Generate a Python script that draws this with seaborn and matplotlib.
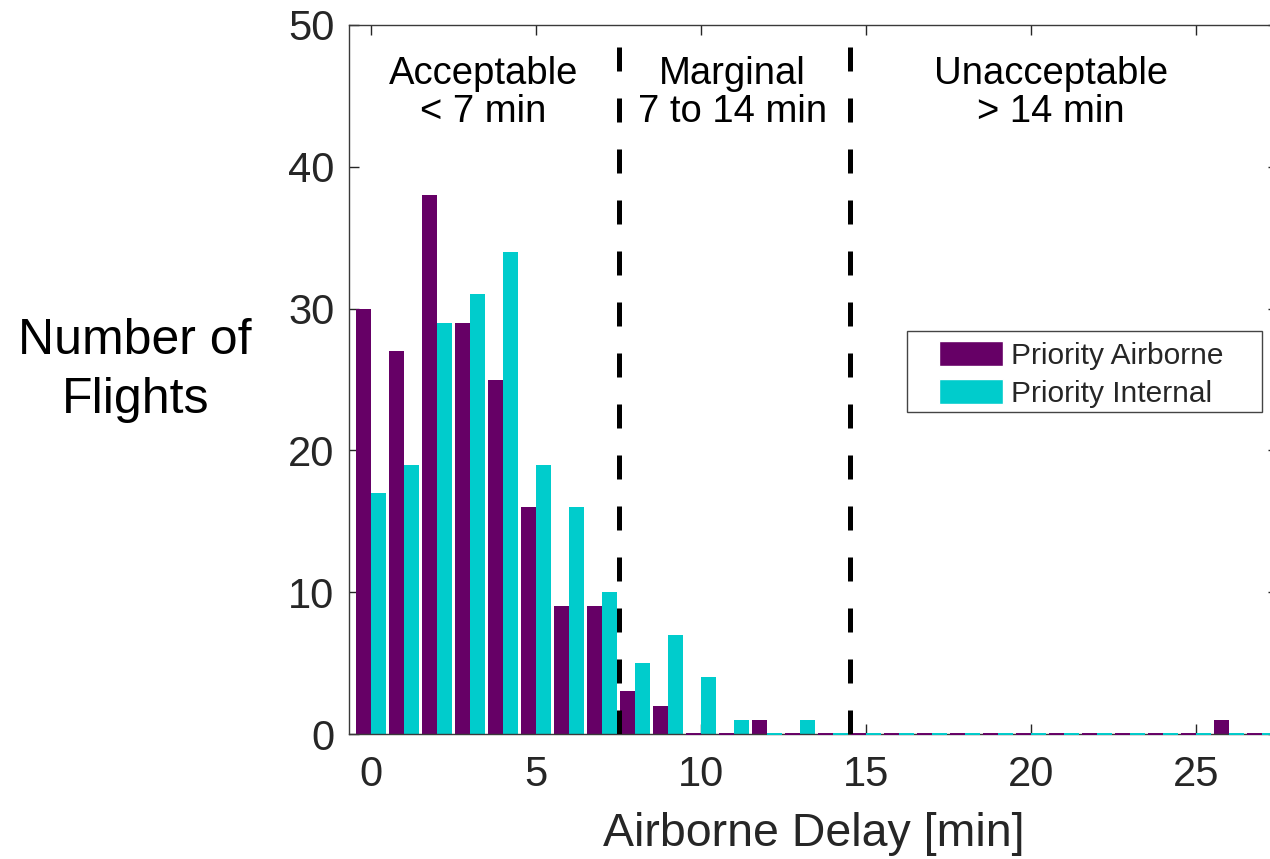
import numpy as np
import pandas as pd
import matplotlib
matplotlib.use('Agg')
import matplotlib.pyplot as plt
from matplotlib.patches import Rectangle
import seaborn as sns

# ---------------- data ----------------
delay_min = list(range(28))
airborne = [30, 27, 38, 29, 25, 16, 9, 9, 3, 2, 0, 0, 1, 0,
            0, 0, 0, 0, 0, 0, 0, 0, 0, 0, 0, 0, 1, 0]
internal = [17, 19, 29, 31, 34, 19, 16, 10, 5, 7, 4, 1, 0, 1,
            0, 0, 0, 0, 0, 0, 0, 0, 0, 0, 0, 0, 0, 0]
series_names = ['Priority Airborne', 'Priority Internal']
colors = ['#660066', '#00cccc']
region_bounds = [7.5, 14.5]
region_labels = ['Acceptable\n< 7 min', 'Marginal\n7 to 14 min', 'Unacceptable\n> 14 min']
region_label_x = [3.4, 10.95, 20.6]
x_ticks = [0, 5, 10, 15, 20, 25]
y_ticks = [0, 10, 20, 30, 40, 50]

df = pd.concat([
    pd.DataFrame({'delay': delay_min, 'count': airborne, 'priority': series_names[0]}),
    pd.DataFrame({'delay': delay_min, 'count': internal, 'priority': series_names[1]}),
])

# ---------------- plot ----------------
sns.set_style('ticks')
plt.rcParams['font.family'] = ['Liberation Sans', 'DejaVu Sans']

fig = plt.figure(figsize=(12.7, 8.59), dpi=100)
ax = fig.add_axes([349 / 1270, 125 / 859, 929.5 / 1270, 709 / 859])

sns.barplot(data=df, x='delay', y='count', hue='priority', palette=colors,
            width=0.9, gap=0, saturation=1, ax=ax, errorbar=None)

# no outlines, except zero height bars which show as a thin coloured line (matlab style)
for cont in ax.containers:
    for p in cont:
        p.set_edgecolor(p.get_facecolor())
        if p.get_height() == 0:
            p.set_linewidth(1.4)
            p.set_zorder(3)
            p.set_clip_on(False)
        else:
            p.set_linewidth(0)

for xb in region_bounds:
    ax.axvline(xb, color='k', lw=3.6, linestyle=(0, (4.8, 5.4)), zorder=5)

for xt, lab in zip(region_label_x, region_labels):
    ax.text(xt, 45.2, lab, ha='center', va='center', fontsize=27.5,
            linespacing=1.07, color='k')

ax.set_xlim(-0.667, 27.5)
ax.set_ylim(0, 50)
ax.set_xticks(x_ticks)
ax.set_xticklabels([str(t) for t in x_ticks])
ax.set_yticks(y_ticks)
ax.tick_params(direction='in', top=True, right=True, length=7, width=1,
               labelsize=30, colors='#262626')
ax.tick_params(axis='x', pad=15)
ax.tick_params(axis='y', pad=10.5)
for s in ax.spines.values():
    s.set_color('#3a3a3a')
    s.set_linewidth(1.0)

ax.set_xlabel('Airborne Delay [min]', fontsize=33.5, color='#262626', labelpad=12.5)
ax.set_ylabel('Number of\nFlights', fontsize=36, color='k', rotation=0,
              ha='center', va='center', linespacing=1.35)
ax.yaxis.set_label_coords(-0.23, 0.513)

# legend without its own frame; the box is drawn separately to get matlab padding
leg = ax.legend(loc='center left', bbox_to_anchor=(0.6347, 0.507), fontsize=21.5,
                frameon=False, borderaxespad=0, borderpad=0, handlelength=2.15,
                handleheight=0.9, handletextpad=0.25, labelspacing=0.3,
                title=None)
leg.set_zorder(7)
ax.add_patch(Rectangle((0.6003, 0.4542), 0.3819, 0.1142, transform=ax.transAxes,
                       facecolor='white', edgecolor='#444444', lw=1.0, zorder=6))

plt.savefig('out.png', dpi=100)
